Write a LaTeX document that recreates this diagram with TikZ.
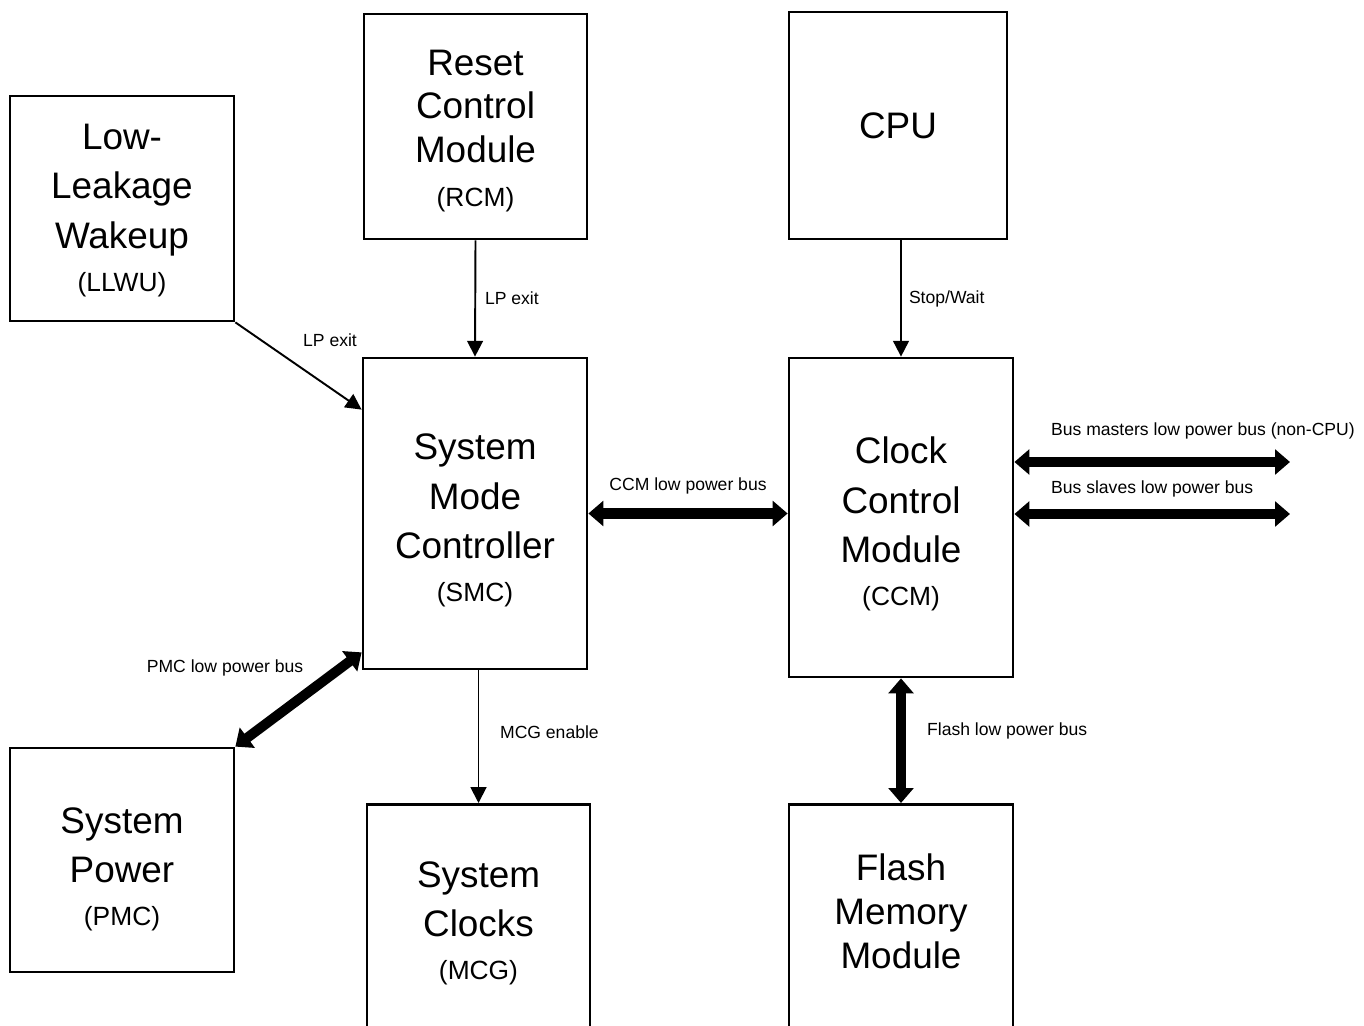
\documentclass[tikz,border=0pt]{standalone}
\usepackage{fontspec}
\setmainfont{Liberation Sans}
\usepackage{tikz}
\usetikzlibrary{
    arrows.meta,
    positioning
}
\newcommand{\subname}[1]{{\fontsize{15}{18}\selectfont #1}}

\begin{document}
\begin{tikzpicture}[
    x=0.02cm, y=-0.02cm,
    blk/.style={draw, line width=1.6pt, minimum width=4.48cm, inner sep=0pt},
    blktxt/.style={align=center, inner sep=0pt, font=\fontsize{21}{28}\selectfont},
    lbl/.style={font=\fontsize{10}{12}\selectfont, inner sep=1pt},
    sig/.style={-{Triangle[length=9pt,width=9pt]}, line width=1.1pt},
    bus/.style={{Triangle[length=8.5pt,width=14pt]}-{Triangle[length=8.5pt,width=14pt]}, line width=5.7pt},
]
    \useasboundingbox (0,0) rectangle (1364,1026);

    % Blocks
    \node[blk, minimum height=4.5cm] (llwu) at (122,208.5) {};
    \node[blktxt] (llwutxt) at (122,210.5) {Low-\\Leakage\\Wakeup\\[-3.5pt]\subname{(LLWU)}};
    \node[blk, minimum width=4.46cm, minimum height=4.5cm] (rcm) at (475.5,126.5) {};
    \node[blktxt, font=\fontsize{21}{25}\selectfont] (rcmtxt) at (475.5,131) {Reset\\Control\\Module\\\subname{(RCM)}};
    \node[blk, minimum width=4.36cm, minimum height=4.54cm, font=\fontsize{21}{28}\selectfont] (cpu) at (898,125.5) {CPU};
    \node[blk, minimum height=6.22cm] (smc) at (475,513.5) {};
    \node[blktxt] (smctxt) at (475,520.5) {System\\Mode\\Controller\\[-3.5pt]\subname{(SMC)}};
    \node[blk, minimum height=6.38cm] (ccm) at (901,517.5) {};
    \node[blktxt] (ccmtxt) at (901,524) {Clock\\Control\\Module\\[-3.5pt]\subname{(CCM)}};
    \node[blk, minimum height=4.48cm] (pmc) at (122,860) {};
    \node[blktxt] (pmctxt) at (122,869) {System\\Power\\[-3.5pt]\subname{(PMC)}};
    \node[blk, minimum width=4.46cm, minimum height=5cm, anchor=north] (mcg) at (478.5,803) {};
    \node[blktxt] (mcgtxt) at (478.5,923) {System\\Clocks\\[-3.5pt]\subname{(MCG)}};
    \node[blk, minimum height=5cm, anchor=north] (flash) at (901,803) {};
    \node[blktxt, font=\fontsize{21}{25}\selectfont] (flashtxt) at (901,911) {Flash\\Memory\\Module};

    % Control signals
    \draw[sig] (rcm.south) -- (smc.north) node[lbl, midway, right=4pt] (rcmlbl) {LP exit};
    \draw[sig] (llwu.south east) -- ([yshift=-1.06cm]smc.north west);
    \node[lbl] (llwulbl) at (330,340) {LP exit};
    \draw[sig] (ccm.north |- cpu.south) -- (ccm.north) node[lbl, midway, right=3pt] (cpulbl) {Stop/Wait};
    \draw[sig] (mcg.north |- smc.south) -- (mcg.north);
    \node[lbl, anchor=west] (mcglbl) at (498,732) {MCG enable};

    % Low power buses
    \draw[bus] (smc.east) -- (smc.east -| ccm.west) node[lbl, midway, above=7pt] (ccmlbl) {CCM low power bus};
    \draw[bus] (pmc.north east) -- ([yshift=0.36cm]smc.south west);
    \node[lbl] (pmclbl) at (225,668) {PMC low power bus};
    \draw[bus] (ccm.south) -- (flash.north);
    \node[lbl, anchor=west] (flashlbl) at (925,731) {Flash low power bus};

    \coordinate (bmend) at (1290,462);
    \coordinate (bsend) at (1290,514);
    \draw[bus] (ccm.east |- bmend) -- (bmend);
    \draw[bus] (ccm.east |- bsend) -- (bsend);
    \node[lbl, anchor=west] (bmlbl) at (1049,431) {Bus masters low power bus (non-CPU)};
    \node[lbl, anchor=west] (bslbl) at (1049,489) {Bus slaves low power bus};

\end{tikzpicture}
\end{document}
